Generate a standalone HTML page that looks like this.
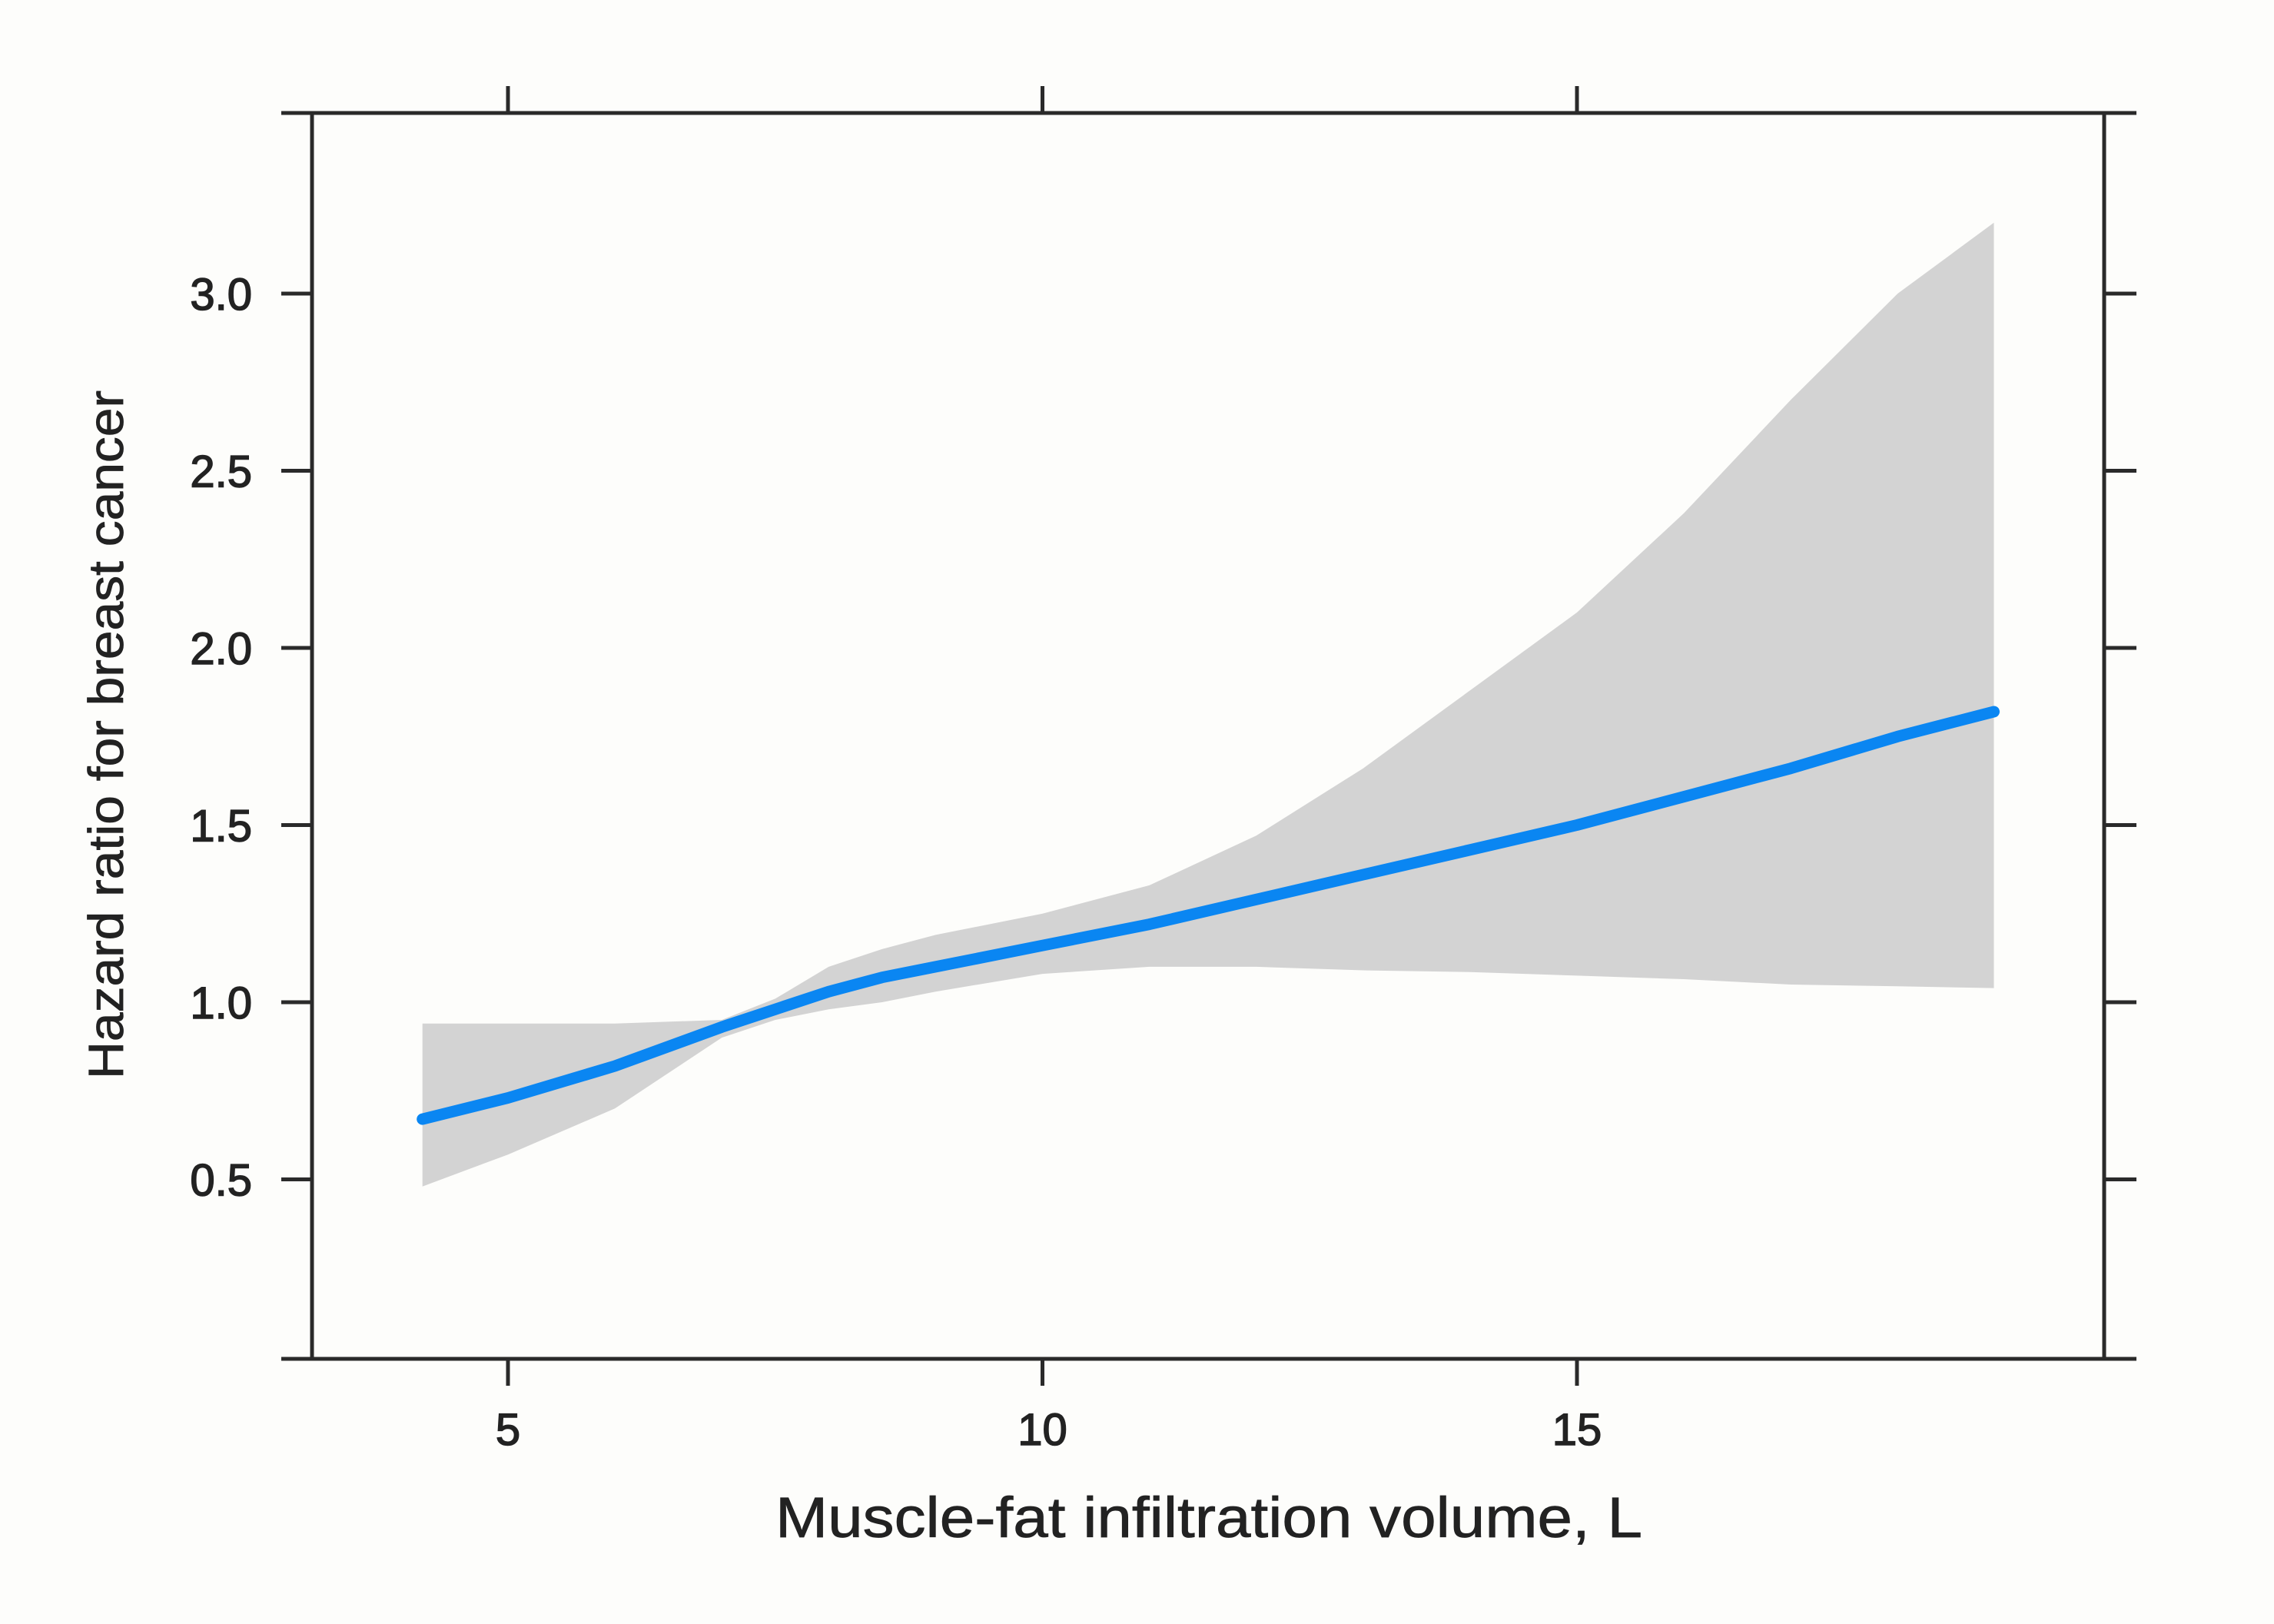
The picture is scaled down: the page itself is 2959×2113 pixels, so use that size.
<!DOCTYPE html>
<html><head><meta charset="utf-8"><style>
html,body{margin:0;padding:0;background:#fdfdfb;}
svg{display:block;}
text{font-family:"Liberation Sans",Arial,sans-serif;fill:#222;}
</style></head><body>
<svg id="chart" width="2959" height="2113" viewBox="0 0 2959 2113" xmlns="http://www.w3.org/2000/svg">
<rect x="0" y="0" width="2959" height="2113" fill="#fdfdfb"/>
<g id="band"></g>
<g id="line"></g>
<g id="axes"></g>
<text x="1573" y="2000" font-size="74" text-anchor="middle" textLength="1128" lengthAdjust="spacingAndGlyphs" stroke="#222" stroke-width="0.8">Muscle-fat infiltration volume, L</text>
<text transform="translate(160,956) rotate(-90)" font-size="64" text-anchor="middle" textLength="896" lengthAdjust="spacingAndGlyphs" stroke="#222" stroke-width="0.8">Hazard ratio for breast cancer</text>
</svg>
<script>
const xVals = [4.2, 5, 6, 7, 7.5, 8, 8.5, 9, 10, 11, 12, 13, 14, 15, 16, 17, 18, 18.9];
const hrVals = [0.67, 0.73, 0.82, 0.93, 0.98, 1.03, 1.07, 1.10, 1.16, 1.22, 1.29, 1.36, 1.43, 1.50, 1.58, 1.66, 1.75, 1.82];
const upperVals = [0.94, 0.94, 0.94, 0.95, 1.01, 1.10, 1.15, 1.19, 1.25, 1.33, 1.47, 1.66, 1.88, 2.10, 2.38, 2.70, 3.00, 3.20];
const lowerVals = [0.48, 0.57, 0.70, 0.90, 0.95, 0.98, 1.00, 1.03, 1.08, 1.10, 1.10, 1.09, 1.085, 1.075, 1.065, 1.05, 1.045, 1.04];
const xTicks = [5, 10, 15];
const yTicks = [0.5, 1.0, 1.5, 2.0, 2.5, 3.0];
const yTickLabels = ["0.5", "1.0", "1.5", "2.0", "2.5", "3.0"];

const NS = "http://www.w3.org/2000/svg";
const L = 406, R = 2738, T = 147, B = 1768;
function xs(v){ return 661 + (v - 5) * 139.1; }
function ys(v){ return 1304 - (v - 1) * 461; }
function mk(tag, attrs, parent){
  const e = document.createElementNS(NS, tag);
  for (const k in attrs) e.setAttribute(k, attrs[k]);
  parent.appendChild(e);
  return e;
}
let d = "";
xVals.forEach((x,i)=>{ d += (i?"L":"M") + xs(x).toFixed(1) + "," + ys(upperVals[i]).toFixed(1); });
for (let i = xVals.length-1; i >= 0; i--) d += "L" + xs(xVals[i]).toFixed(1) + "," + ys(lowerVals[i]).toFixed(1);
d += "Z";
const band = mk("path", {d: d, fill: "#d3d3d3"}, document.getElementById("band"));


const pts = xVals.map((x,i)=> xs(x).toFixed(1) + "," + ys(hrVals[i]).toFixed(1)).join(" ");
const pl = mk("polyline", {points: pts, fill: "none", stroke: "#0a86f2", "stroke-width": 15, "stroke-linejoin": "round", "stroke-linecap": "round"}, document.getElementById("line"));


const ax = document.getElementById("axes");
const st = {stroke: "#2a2a2a", "stroke-width": 5, fill: "none"};
mk("line", Object.assign({x1: 366, y1: T, x2: 2780, y2: T}, st), ax);
mk("line", Object.assign({x1: 366, y1: B, x2: 2780, y2: B}, st), ax);
mk("line", Object.assign({x1: L, y1: T, x2: L, y2: B}, st), ax);
mk("line", Object.assign({x1: R, y1: T, x2: R, y2: B}, st), ax);
xTicks.forEach(t=>{
  const x = xs(t);
  mk("line", Object.assign({x1: x, y1: T, x2: x, y2: T - 35}, st), ax);
  mk("line", Object.assign({x1: x, y1: B, x2: x, y2: B + 35}, st), ax);
  const lb = mk("text", {x: x, y: 1880, "font-size": 58, "text-anchor": "middle", stroke: "#222", "stroke-width": 1.5}, ax);
  lb.textContent = String(t);
  
  
});
yTicks.forEach((t,i)=>{
  const y = ys(t);
  mk("line", Object.assign({x1: L, y1: y, x2: 366, y2: y}, st), ax);
  mk("line", Object.assign({x1: R, y1: y, x2: 2780, y2: y}, st), ax);
  const lb = mk("text", {x: 328, y: y + 21, "font-size": 58, "text-anchor": "end", stroke: "#222", "stroke-width": 1.5}, ax);
  lb.textContent = yTickLabels[i];
  
  
});
</script>
</body></html>
